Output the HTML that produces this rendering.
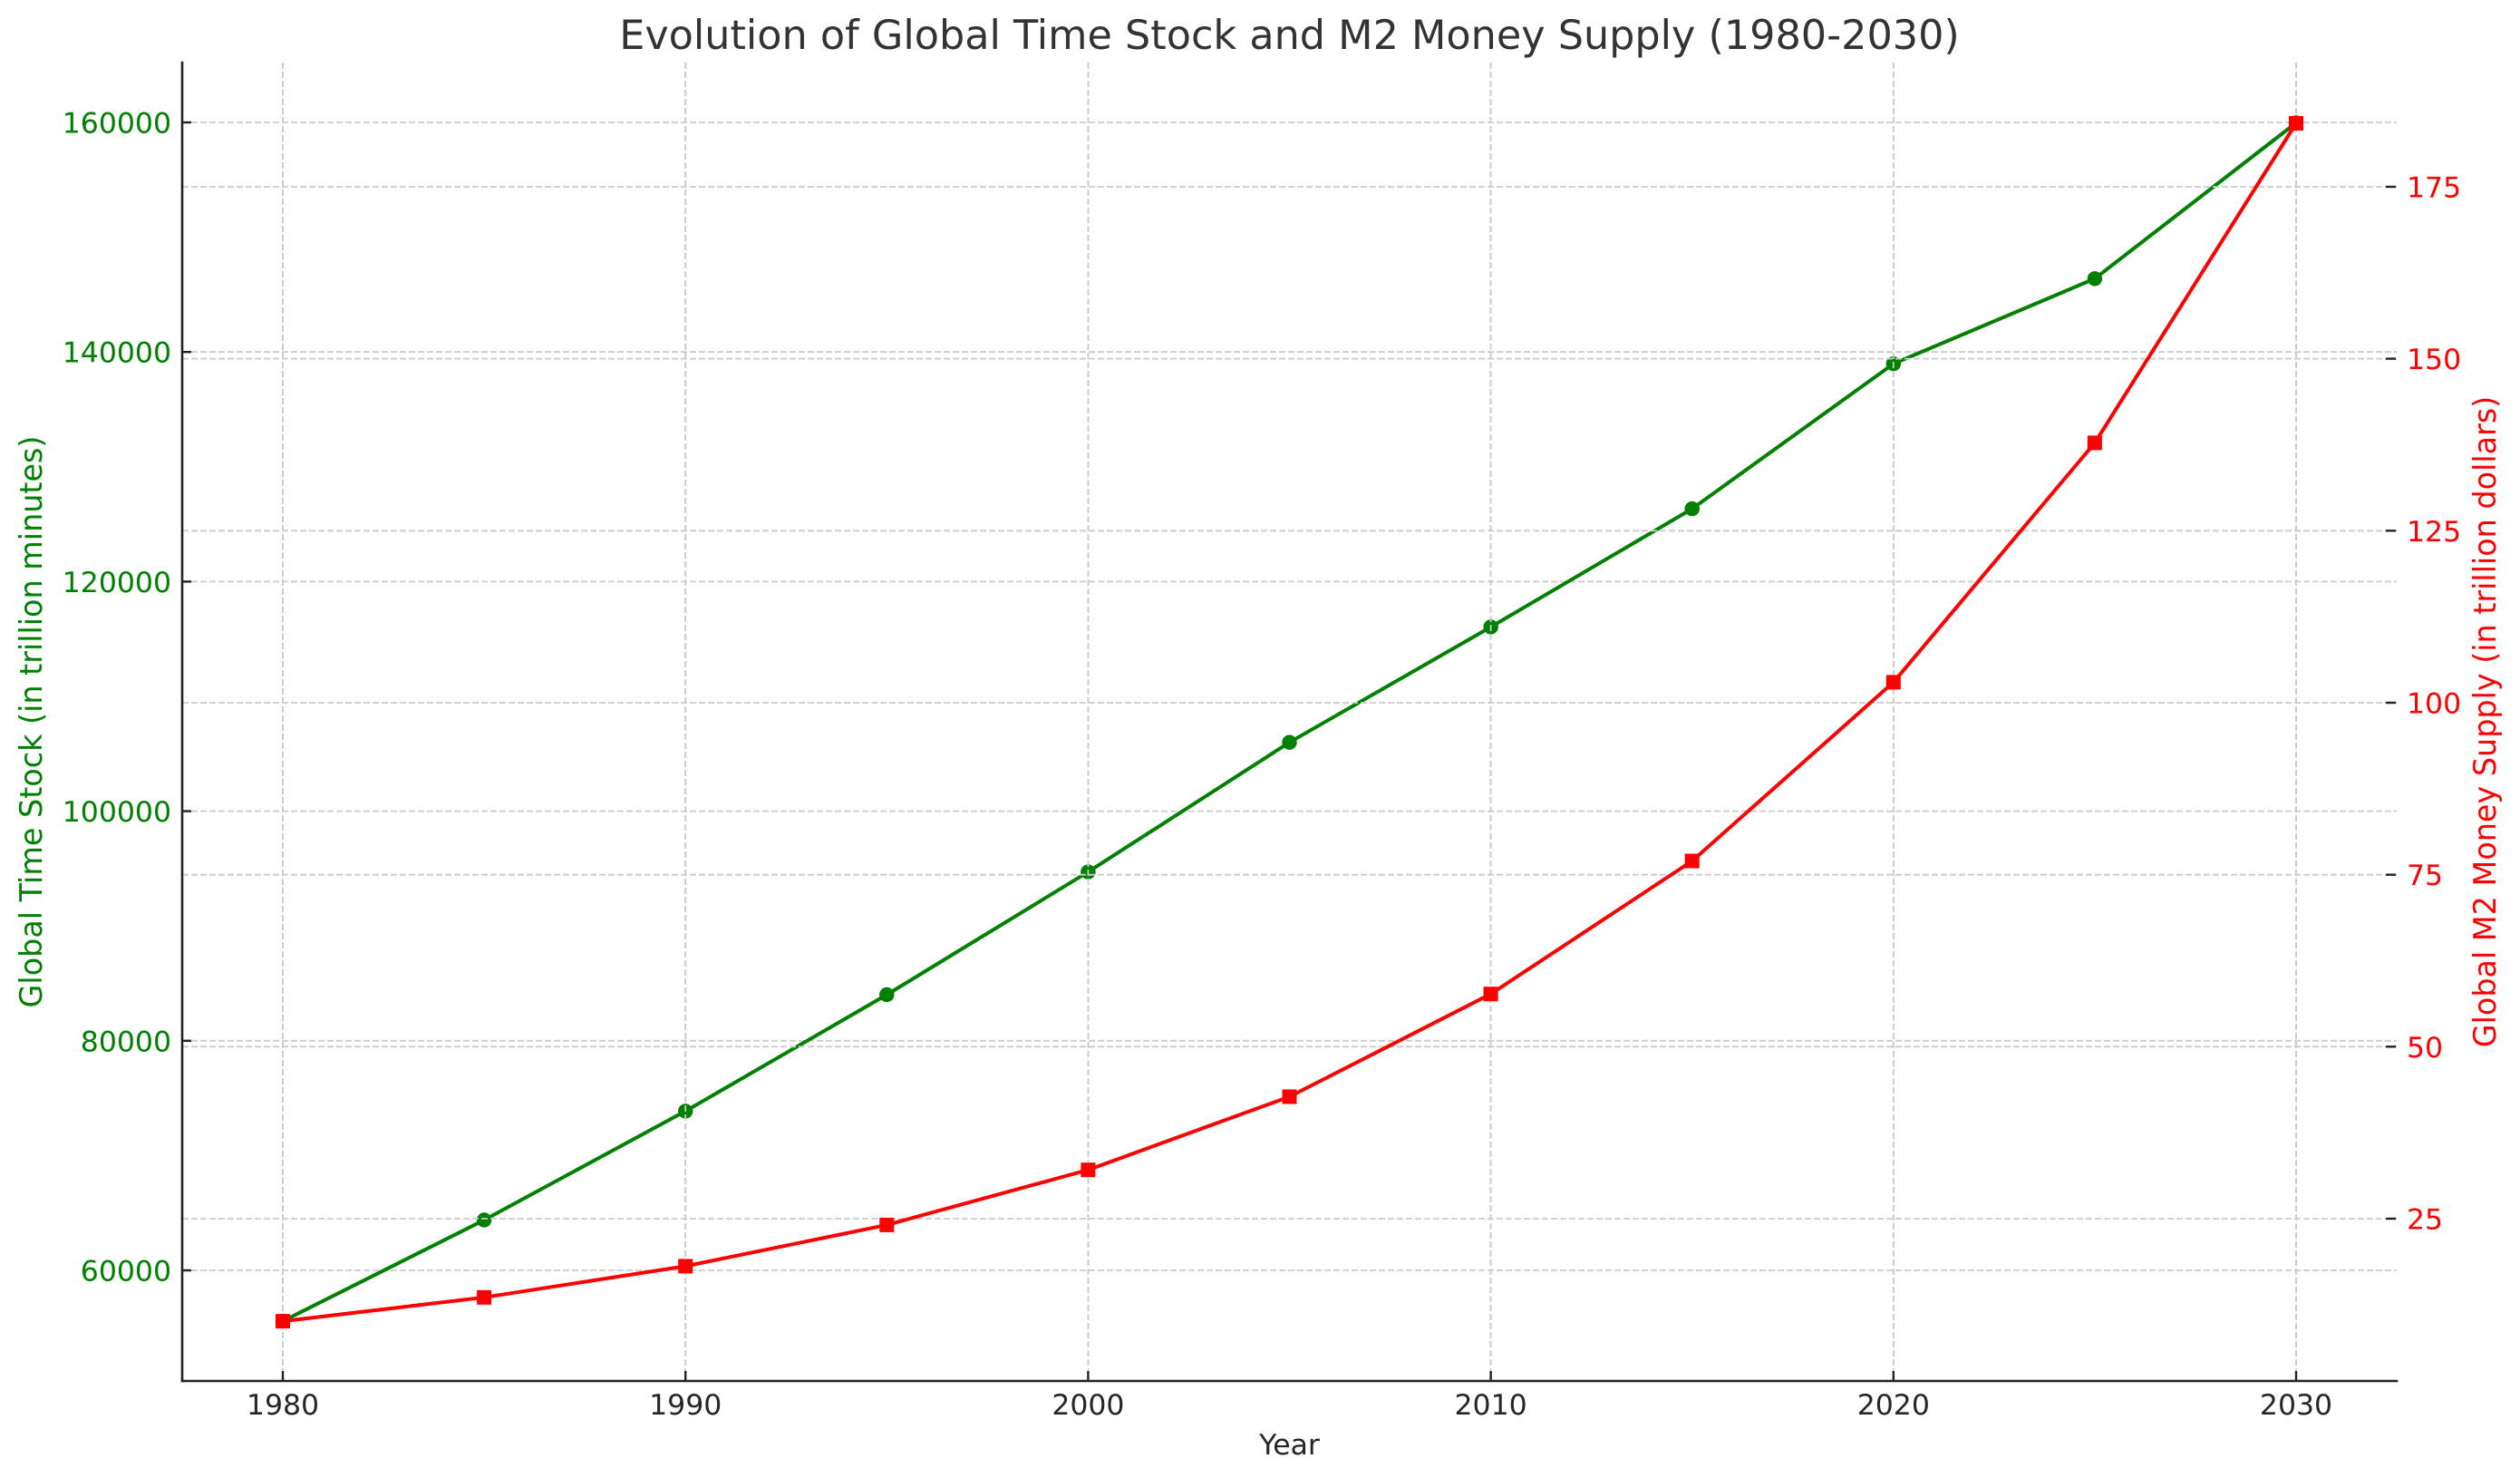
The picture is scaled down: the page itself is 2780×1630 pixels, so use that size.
<!DOCTYPE html>
<html>
<head>
<meta charset="utf-8">
<style>
  html, body { margin: 0; padding: 0; background: #ffffff; }
  svg { display: block; }
  text { font-family: "DejaVu Sans", "Liberation Sans", sans-serif; }
</style>
</head>
<body>
<svg width="2780" height="1630" viewBox="0 0 2780 1630" xmlns="http://www.w3.org/2000/svg">
  <rect x="0" y="0" width="2780" height="1630" fill="#ffffff"/>

  <!-- ax1 grid: vertical -->
  <g stroke="#cbcbcb" stroke-width="1.8" stroke-dasharray="7,3" fill="none">
    <line x1="312" y1="69" x2="312" y2="1523"/>
    <line x1="756.2" y1="69" x2="756.2" y2="1523"/>
    <line x1="1200.4" y1="69" x2="1200.4" y2="1523"/>
    <line x1="1644.6" y1="69" x2="1644.6" y2="1523"/>
    <line x1="2088.8" y1="69" x2="2088.8" y2="1523"/>
    <line x1="2533" y1="69" x2="2533" y2="1523"/>
    <!-- ax1 grid: horizontal (left axis ticks) -->
    <line x1="201" y1="1401" x2="2644" y2="1401"/>
    <line x1="201" y1="1147.8" x2="2644" y2="1147.8"/>
    <line x1="201" y1="894.6" x2="2644" y2="894.6"/>
    <line x1="201" y1="641.4" x2="2644" y2="641.4"/>
    <line x1="201" y1="388.2" x2="2644" y2="388.2"/>
    <line x1="201" y1="135" x2="2644" y2="135"/>
  </g>

  <!-- green series -->
  <polyline fill="none" stroke="#008000" stroke-width="4" stroke-linejoin="round"
    points="312,1457 534.1,1345.5 756.2,1225.4 978.3,1097 1200.4,961.6 1422.5,818.7 1644.6,691.5 1866.7,561.1 2088.8,401.2 2310.9,307.3 2533,135.5"/>
  <g fill="#008000">
    <circle cx="312" cy="1457" r="8.2"/>
    <circle cx="534.1" cy="1345.5" r="8.2"/>
    <circle cx="756.2" cy="1225.4" r="8.2"/>
    <circle cx="978.3" cy="1097" r="8.2"/>
    <circle cx="1200.4" cy="961.6" r="8.2"/>
    <circle cx="1422.5" cy="818.7" r="8.2"/>
    <circle cx="1644.6" cy="691.5" r="8.2"/>
    <circle cx="1866.7" cy="561.1" r="8.2"/>
    <circle cx="2088.8" cy="401.2" r="8.2"/>
    <circle cx="2310.9" cy="307.3" r="8.2"/>
    <circle cx="2533" cy="135.5" r="8.2"/>
  </g>

  <!-- ax2 grid -->
  <g stroke="#cbcbcb" stroke-width="1.8" stroke-dasharray="7,3" fill="none">
    <line x1="312" y1="69" x2="312" y2="1523"/>
    <line x1="756.2" y1="69" x2="756.2" y2="1523"/>
    <line x1="1200.4" y1="69" x2="1200.4" y2="1523"/>
    <line x1="1644.6" y1="69" x2="1644.6" y2="1523"/>
    <line x1="2088.8" y1="69" x2="2088.8" y2="1523"/>
    <line x1="2533" y1="69" x2="2533" y2="1523"/>
    <line x1="201" y1="1344" x2="2644" y2="1344"/>
    <line x1="201" y1="1154.3" x2="2644" y2="1154.3"/>
    <line x1="201" y1="964.7" x2="2644" y2="964.7"/>
    <line x1="201" y1="775" x2="2644" y2="775"/>
    <line x1="201" y1="585.3" x2="2644" y2="585.3"/>
    <line x1="201" y1="395.6" x2="2644" y2="395.6"/>
    <line x1="201" y1="206" x2="2644" y2="206"/>
  </g>

  <!-- red series -->
  <polyline fill="none" stroke="#ff0000" stroke-width="4" stroke-linejoin="round"
    points="312,1457.1 534.1,1430.8 756.2,1396.4 978.3,1350.9 1200.4,1290.2 1422.5,1209.5 1644.6,1096.2 1866.7,949.5 2088.8,752.4 2310.9,488.4 2533,136"/>
  <g fill="#ff0000">
    <rect x="304" y="1449.1" width="16" height="16"/>
    <rect x="526.1" y="1422.8" width="16" height="16"/>
    <rect x="748.2" y="1388.4" width="16" height="16"/>
    <rect x="970.3" y="1342.9" width="16" height="16"/>
    <rect x="1192.4" y="1282.2" width="16" height="16"/>
    <rect x="1414.5" y="1201.5" width="16" height="16"/>
    <rect x="1636.6" y="1088.2" width="16" height="16"/>
    <rect x="1858.7" y="941.5" width="16" height="16"/>
    <rect x="2080.8" y="744.4" width="16" height="16"/>
    <rect x="2302.9" y="480.4" width="16" height="16"/>
    <rect x="2525" y="128" width="16" height="16"/>
  </g>

  <!-- spines -->
  <g stroke="#222222" stroke-width="2.6" fill="none" stroke-linecap="square">
    <line x1="201" y1="69" x2="201" y2="1523"/>
    <line x1="201" y1="1523" x2="2644" y2="1523"/>
  </g>

  <!-- ticks (inward) -->
  <g stroke="#222222" stroke-width="2.4" fill="none">
    <line x1="312" y1="1523" x2="312" y2="1512"/>
    <line x1="756.2" y1="1523" x2="756.2" y2="1512"/>
    <line x1="1200.4" y1="1523" x2="1200.4" y2="1512"/>
    <line x1="1644.6" y1="1523" x2="1644.6" y2="1512"/>
    <line x1="2088.8" y1="1523" x2="2088.8" y2="1512"/>
    <line x1="2533" y1="1523" x2="2533" y2="1512"/>
    <line x1="201" y1="1401" x2="211" y2="1401"/>
    <line x1="201" y1="1147.8" x2="211" y2="1147.8"/>
    <line x1="201" y1="894.6" x2="211" y2="894.6"/>
    <line x1="201" y1="641.4" x2="211" y2="641.4"/>
    <line x1="201" y1="388.2" x2="211" y2="388.2"/>
    <line x1="201" y1="135" x2="211" y2="135"/>
    <line x1="2643" y1="1344" x2="2632" y2="1344"/>
    <line x1="2643" y1="1154.3" x2="2632" y2="1154.3"/>
    <line x1="2643" y1="964.7" x2="2632" y2="964.7"/>
    <line x1="2643" y1="775" x2="2632" y2="775"/>
    <line x1="2643" y1="585.3" x2="2632" y2="585.3"/>
    <line x1="2643" y1="395.6" x2="2632" y2="395.6"/>
    <line x1="2643" y1="206" x2="2632" y2="206"/>
  </g>

  <!-- x tick labels -->
  <g font-size="31.5" fill="#262626" text-anchor="middle">
    <text x="312" y="1560">1980</text>
    <text x="756.2" y="1560">1990</text>
    <text x="1200.4" y="1560">2000</text>
    <text x="1644.6" y="1560">2010</text>
    <text x="2088.8" y="1560">2020</text>
    <text x="2533" y="1560">2030</text>
  </g>

  <!-- left tick labels -->
  <g font-size="31.5" fill="#008000" text-anchor="end">
    <text x="189" y="1412.5">60000</text>
    <text x="189" y="1159.3">80000</text>
    <text x="189" y="906.1">100000</text>
    <text x="189" y="652.9">120000</text>
    <text x="189" y="399.7">140000</text>
    <text x="189" y="146.5">160000</text>
  </g>

  <!-- right tick labels -->
  <g font-size="31.5" fill="#ff0000" text-anchor="start">
    <text x="2655" y="1355.5">25</text>
    <text x="2655" y="1165.8">50</text>
    <text x="2655" y="976.2">75</text>
    <text x="2655" y="786.5">100</text>
    <text x="2655" y="596.8">125</text>
    <text x="2655" y="407.1">150</text>
    <text x="2655" y="217.5">175</text>
  </g>

  <!-- title -->
  <text x="1422.5" y="54" font-size="44.5" fill="#333333" text-anchor="middle">Evolution of Global Time Stock and M2 Money Supply (1980-2030)</text>

  <!-- x label -->
  <text x="1422.5" y="1604" font-size="31.5" fill="#262626" text-anchor="middle">Year</text>

  <!-- y labels -->
  <text transform="translate(46,796) rotate(-90)" font-size="33.4" fill="#008000" text-anchor="middle">Global Time Stock (in trillion minutes)</text>
  <text transform="translate(2753,796) rotate(-90)" font-size="33.4" fill="#ff0000" text-anchor="middle">Global M2 Money Supply (in trillion dollars)</text>
</svg>
</body>
</html>
